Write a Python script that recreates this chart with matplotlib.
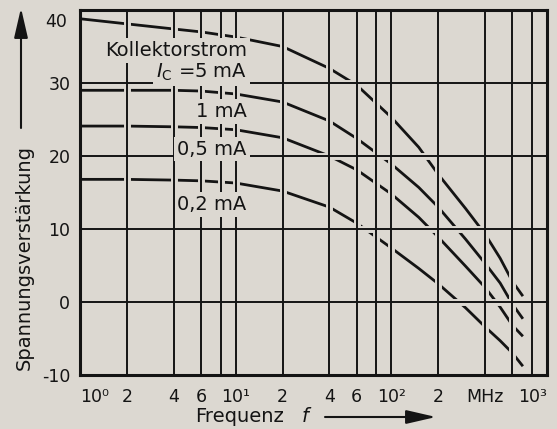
import matplotlib
matplotlib.use('Agg')
import matplotlib.pyplot as plt
import matplotlib.transforms as mtransforms
from matplotlib.ticker import NullLocator

# Farben: Papier (Scan) und Druckfarbe
papier = '#dcd8d1'
tinte = '#141414'

# Werte
frequenz = [1, 2, 4, 6, 10, 20, 40, 60, 100, 150, 200, 300, 400, 500, 600, 700]
v_5mA = [38.8, 38.1, 37.4, 37.0, 36.3, 35.0, 32.0, 29.7, 25.3, 21.2, 17.5, 12.8, 9.3, 6.0, 2.8, 0.8]
v_1mA = [29.0, 29.0, 29.0, 28.9, 28.5, 27.4, 24.8, 22.4, 18.9, 15.7, 13.0, 8.6, 5.3, 2.6, -0.3, -2.3]
v_05mA = [24.1, 24.1, 24.0, 23.9, 23.6, 22.5, 20.0, 18.1, 14.8, 11.6, 8.9, 4.9, 2.0, -0.7, -3.2, -4.7]
v_02mA = [16.8, 16.8, 16.7, 16.6, 16.3, 15.2, 13.0, 10.8, 7.4, 4.6, 2.5, -0.8, -3.4, -5.3, -7.0, -8.8]
kurven = [v_5mA, v_1mA, v_05mA, v_02mA]

# Gitter und Beschriftung
gitter_f = [2, 4, 6, 8, 10, 20, 40, 60, 80, 100, 200, 400, 600, 800]
gitter_v = [0, 10, 20, 30]
xtick_pos = [1, 2, 4, 6, 10, 20, 40, 60, 100, 200, 400, 1000]
xtick_text = ['10⁰', '2', '4', '6', '10¹', '2', '4', '6', '10²', '2', 'MHz', '10³']
ytick_pos = [-10, 0, 10, 20, 30]
ytick_text = ['-10', '0', '10', '20', '30']

fig = plt.figure(figsize=(5.57, 4.29), dpi=100, facecolor=papier)
ax = fig.add_axes([80/557, 54/429, 467/557, 365/429])
ax.set_facecolor(papier)
ax.set_xscale('log')
ax.set_xlim(1, 1000)
ax.set_ylim(-10, 40)

# Kennlinien
for werte in kurven:
    ax.plot(frequenz, werte, color=tinte, lw=2.0, zorder=2, solid_capstyle='butt')

# Gitter mit hellem Rand, damit die Kurven unterbrochen werden wie im Original
for f in gitter_f:
    ax.axvline(f, color=papier, lw=5, zorder=2.5)
    ax.axvline(f, color=tinte, lw=1.4, zorder=3)
for v in gitter_v:
    ax.axhline(v, color=papier, lw=5, zorder=2.5)
    ax.axhline(v, color=tinte, lw=1.4, zorder=3)

for s in ax.spines.values():
    s.set_linewidth(2.2)
    s.set_color(tinte)
    s.set_zorder(4)

ax.xaxis.set_minor_locator(NullLocator())
ax.set_xticks(xtick_pos, xtick_text)
ax.set_yticks(ytick_pos, ytick_text)
ax.tick_params(axis='both', length=0, colors=tinte, labelsize=12.5)
ax.tick_params(axis='x', pad=9)
ax.tick_params(axis='y', pad=7)
labels = ax.get_xticklabels()
labels[0].set_ha('left')
labels[-1].set_ha('right')

# die 40 steht im Original etwas tiefer
trans = mtransforms.blended_transform_factory(ax.transAxes, ax.transData)
ax.text(-0.028, 38.3, '40', transform=trans, ha='right', va='center',
        fontsize=12.5, color=tinte)

# Beschriftung der Kurven
box = dict(boxstyle='square,pad=0.15', fc=papier, ec='none')
beschriftung = [('Kollektorstrom', 0.890), (r'$I_{\rm C}$ =5 mA', 0.830),
                ('1 mA', 0.723), ('0,5 mA', 0.619), ('0,2 mA', 0.466)]
for text, y in beschriftung:
    ax.text(0.357, y, text, transform=ax.transAxes, ha='right', va='center',
            fontsize=14, color=tinte, zorder=5, bbox=box)

# Achsenbeschriftungen mit Pfeilen
fig.text(24/557, 1 - 258/429, 'Spannungsverstärkung', rotation=90, ha='center',
         va='center', fontsize=14, color=tinte)
fig.text(195/557, 0.016, 'Frequenz', ha='left', va='baseline', fontsize=14, color=tinte)
fig.text(302/557, 0.016, 'f', ha='left', va='baseline', fontsize=14,
         style='italic', color=tinte)
pfeil = dict(arrowstyle='-|>,head_length=1.3,head_width=0.3', color=tinte, lw=1.5,
             shrinkA=0, shrinkB=0, mutation_scale=14)
ax.annotate('', xy=(21/557, 1 - 8/429), xytext=(21/557, 1 - 128/429),
            xycoords='figure fraction', textcoords='figure fraction',
            arrowprops=pfeil, annotation_clip=False)
ax.annotate('', xy=(436/557, 12/429), xytext=(325/557, 12/429),
            xycoords='figure fraction', textcoords='figure fraction',
            arrowprops=pfeil, annotation_clip=False)

fig.savefig('out.png', dpi=100, facecolor=papier)
